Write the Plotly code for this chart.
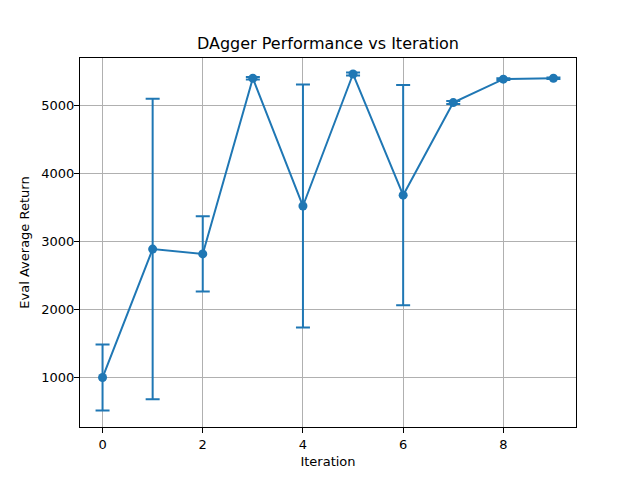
import plotly.graph_objects as go

iterations = [0, 1, 2, 3, 4, 5, 6, 7, 8, 9]
mean_return = [1000, 2886, 2815, 5393, 3518, 5456, 3677, 5036, 5380, 5394]
std_return = [485, 2205, 552, 18, 1785, 22, 1617, 22, 12, 10]

color = "#1f77b4"
fig = go.Figure()
fig.add_trace(go.Scatter(
    x=iterations, y=mean_return, mode="lines+markers",
    line=dict(color=color, width=2),
    marker=dict(color=color, size=9),
    error_y=dict(type="data", array=std_return, visible=True,
                 color=color, thickness=2, width=7),
    showlegend=False,
))

axis_common = dict(
    showline=True, linecolor="black", linewidth=1, mirror=True,
    ticks="outside", ticklen=5, tickcolor="black", tickwidth=1,
    showgrid=True, gridcolor="#b0b0b0", gridwidth=1, zeroline=False,
    tickfont=dict(family="DejaVu Sans", size=13, color="black"),
    automargin=False,
)
# page body has an 8px margin, so offset the plot area accordingly
fig.update_layout(
    width=640, height=480,
    paper_bgcolor="white", plot_bgcolor="white",
    margin=dict(l=72, r=72, t=50, b=61),
    title=dict(text="DAgger Performance vs Iteration", x=0.5, xanchor="center",
               xref="paper", y=1 - 35/480, yanchor="middle",
               font=dict(family="DejaVu Sans", size=16, color="black"),
               automargin=False),
    font=dict(family="DejaVu Sans", color="black"),
)
fig.update_xaxes(axis_common, range=[-0.45, 9.45], tickvals=[0, 2, 4, 6, 8],
                 title=dict(text="Iteration", font=dict(size=13), standoff=6))
fig.update_yaxes(axis_common, range=[274, 5691], tickvals=[1000, 2000, 3000, 4000, 5000],
                 ticklabelstandoff=-3,
                 title=dict(text="Eval Average Return", font=dict(size=13), standoff=8))
fig.write_html("out.html")
